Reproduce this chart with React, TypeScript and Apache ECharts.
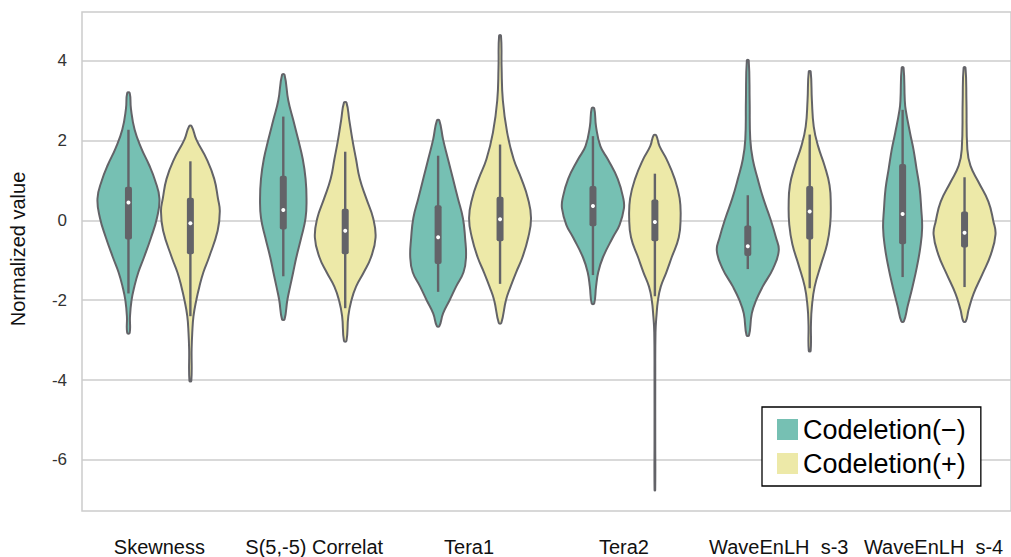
import React, { useEffect, useRef } from "react";
import * as echarts from "echarts";

const categories = ["Skewness", "S(5,-5) Correlat", "Tera1", "Tera2", "WaveEnLH_s-3", "WaveEnLH_s-4"];
const hueNames = ["Codeletion(−)", "Codeletion(+)"];
const yTicks = [-6, -4, -2, 0, 2, 4];

// violin outlines: [value, relative half-width]
const skewNeg = [[3.19,0.04],[2.8,0.08],[2.27,0.2],[1.8,0.42],[1.4,0.66],[1.0,0.86],[0.55,1.0],[0.06,0.92],[-0.43,0.73],[-0.93,0.5],[-1.3,0.32],[-1.66,0.19],[-2.0,0.1],[-2.4,0.05],[-2.82,0.04]];
const skewPos = [[2.36,0.04],[2.03,0.19],[1.53,0.53],[1.04,0.77],[0.55,0.89],[0.23,0.95],[-0.26,0.88],[-0.93,0.6],[-1.3,0.42],[-1.66,0.29],[-2.0,0.19],[-2.4,0.1],[-2.82,0.06],[-3.23,0.04],[-4.02,0.03]];
const corrNeg = [[3.65,0.04],[3.01,0.16],[2.52,0.32],[2.03,0.48],[1.53,0.63],[1.04,0.72],[0.55,0.75],[0.06,0.72],[-0.43,0.58],[-0.93,0.42],[-1.3,0.32],[-1.66,0.22],[-2.0,0.13],[-2.48,0.04]];
const corrPos = [[2.95,0.04],[2.52,0.13],[2.03,0.23],[1.53,0.35],[1.04,0.47],[0.55,0.68],[0.06,0.9],[-0.43,0.98],[-0.93,0.83],[-1.3,0.6],[-1.66,0.35],[-2.0,0.2],[-2.4,0.1],[-3.02,0.04]];
const tera1Neg = [[2.5,0.04],[2.03,0.16],[1.53,0.32],[1.04,0.48],[0.55,0.64],[0.06,0.8],[-0.43,0.87],[-0.93,0.9],[-1.3,0.82],[-1.66,0.58],[-2.0,0.37],[-2.33,0.16],[-2.65,0.04]];
const tera1Pos = [[4.63,0.03],[3.83,0.05],[3.01,0.09],[2.2,0.23],[1.53,0.44],[1.04,0.69],[0.55,0.9],[0.06,1.0],[-0.43,0.91],[-0.93,0.72],[-1.3,0.52],[-1.66,0.34],[-2.0,0.19],[-2.57,0.04]];
const tera2Neg = [[2.81,0.04],[2.35,0.1],[1.86,0.24],[1.53,0.48],[1.04,0.8],[0.55,0.98],[0.3,1.0],[-0.11,0.86],[-0.43,0.64],[-0.93,0.32],[-1.3,0.17],[-1.66,0.1],[-2.08,0.04]];
const tera2Pos = [[2.13,0.04],[1.86,0.15],[1.53,0.38],[1.04,0.64],[0.55,0.8],[0.06,0.83],[-0.43,0.77],[-0.93,0.54],[-1.3,0.37],[-1.66,0.19],[-2.0,0.1],[-2.4,0.05],[-2.8,0.02],[-4.0,0.012],[-5.5,0.012],[-6.76,0.01]];
const wave3Neg = [[4.01,0.03],[3.01,0.06],[2.03,0.08],[1.53,0.16],[1.04,0.32],[0.55,0.5],[0.06,0.72],[-0.43,0.91],[-0.76,1.0],[-1.2,0.82],[-1.66,0.48],[-2.0,0.27],[-2.33,0.13],[-2.88,0.04]];
const wave3Pos = [[3.73,0.03],[3.01,0.07],[2.35,0.13],[1.86,0.27],[1.37,0.48],[0.88,0.64],[0.38,0.68],[-0.11,0.66],[-0.6,0.56],[-1.09,0.37],[-1.66,0.16],[-2.16,0.07],[-2.6,0.04],[-3.27,0.03]];
const wave4Neg = [[3.83,0.03],[3.01,0.07],[2.77,0.1],[2.19,0.24],[1.78,0.35],[1.29,0.45],[0.8,0.55],[0.3,0.6],[-0.19,0.63],[-0.68,0.57],[-1.17,0.46],[-1.66,0.32],[-2.16,0.16],[-2.53,0.04]];
const wave4Pos = [[3.83,0.03],[3.01,0.06],[1.78,0.09],[1.37,0.19],[0.96,0.45],[0.47,0.77],[-0.02,0.93],[-0.35,1.0],[-0.85,0.85],[-1.34,0.58],[-1.84,0.29],[-2.24,0.13],[-2.53,0.04]];

// inner box: [whiskerLow, q1, median, q3, whiskerHigh]
const boxNeg = [[-1.83,-0.48,0.45,0.84,2.27],[-1.4,-0.23,0.26,1.12,2.6],[-1.79,-1.09,-0.42,0.38,1.62],[-1.37,-0.15,0.36,0.86,2.11],[-1.22,-0.89,-0.65,-0.13,0.63],[-1.42,-0.6,0.16,1.41,2.77]];
const boxPos = [[-2.4,-0.85,-0.07,0.57,1.48],[-2.2,-0.85,-0.26,0.29,1.72],[-1.59,-0.52,0.03,0.59,1.9],[-1.9,-0.52,-0.04,0.52,1.17],[-1.7,-0.48,0.22,0.86,2.15],[-1.67,-0.68,-0.31,0.22,1.08]];

const profilesNeg = [skewNeg, corrNeg, tera1Neg, tera2Neg, wave3Neg, wave4Neg];
const profilesPos = [skewPos, corrPos, tera1Pos, tera2Pos, wave3Pos, wave4Pos];

const TEAL = "#76c0b3";
const YELLOW = "#ede9a8";
const EDGE = "#636368";

function makeRender(profiles: number[][][], boxes: number[][], side: number) {
  return (params: any, api: any) => {
    const i = params.dataIndex;
    const band = api.size([1, 0])[0];
    const cx = api.coord([i, 0])[0] + side * band * 0.2;
    const half = band * 0.2;
    const prof = profiles[i];
    const left = prof.map(([v, w]) => [cx - w * half, api.coord([i, v])[1]]);
    const right = prof.slice().reverse().map(([v, w]) => [cx + w * half, api.coord([i, v])[1]]);
    const [wl, q1, med, q3, wh] = boxes[i];
    const yq1 = api.coord([i, q1])[1];
    const yq3 = api.coord([i, q3])[1];
    const fill = side < 0 ? TEAL : YELLOW;
    return {
      type: "group",
      children: [
        {
          type: "polygon",
          shape: { points: left.concat(right), smooth: 0.45 },
          style: { fill, stroke: EDGE, lineWidth: 2 },
        },
        {
          type: "line",
          shape: { x1: cx, y1: api.coord([i, wl])[1], x2: cx, y2: api.coord([i, wh])[1] },
          style: { stroke: EDGE, lineWidth: 2.4 },
        },
        {
          type: "rect",
          shape: { x: cx - 3.5, y: yq3, width: 7, height: yq1 - yq3, r: 2 },
          style: { fill: EDGE },
        },
        {
          type: "circle",
          shape: { cx, cy: api.coord([i, med])[1], r: 2 },
          style: { fill: "#ffffff" },
        },
      ],
    };
  };
}

export default function App() {
  const ref = useRef<HTMLDivElement>(null);
  useEffect(() => {
    if (!ref.current) return;
    const chart = echarts.init(ref.current, undefined, { renderer: "svg" });
    const font = "Liberation Sans, Arial, sans-serif";
    chart.setOption({
      animation: false,
      backgroundColor: "#ffffff",
      grid: {
        left: 82,
        top: 12,
        width: 938,
        height: 506,
        show: true,
        borderColor: "#cccccc",
        borderWidth: 1.5,
        backgroundColor: "transparent",
      },
      legend: {
        orient: "vertical",
        left: 762,
        top: 407,
        padding: [9, 15, 9, 15],
        itemGap: 7,
        itemWidth: 21,
        itemHeight: 21,
        icon: "rect",
        backgroundColor: "#ffffff",
        borderColor: "#000000",
        borderWidth: 1.3,
        borderRadius: 0,
        textStyle: { fontSize: 27, color: "#000", fontFamily: font, lineHeight: 21, padding: [0, 0, 0, 0] },
        data: [
          { name: hueNames[0], itemStyle: { color: TEAL, borderWidth: 0 } },
          { name: hueNames[1], itemStyle: { color: YELLOW, borderWidth: 0 } },
        ],
      },
      xAxis: {
        type: "category",
        data: categories,
        boundaryGap: true,
        axisLine: { show: false },
        axisTick: { show: false },
        splitLine: { show: false },
        axisLabel: { interval: 0, margin: 26, fontSize: 20, color: "#111", fontFamily: font },
      },
      yAxis: {
        type: "value",
        min: -7.28,
        max: 5.22,
        axisLine: { show: false },
        axisTick: { show: false, customValues: yTicks },
        axisLabel: { customValues: yTicks, fontSize: 17, color: "#333", margin: 15, fontFamily: font },
        splitLine: { show: true, lineStyle: { color: "#cccccc", width: 1.5 } },
      },
      graphic: [
        {
          type: "text",
          x: 18,
          y: 249,
          rotation: Math.PI / 2,
          style: {
            text: "Normalized value",
            fontSize: 20,
            fontFamily: font,
            fill: "#111",
            align: "center",
            verticalAlign: "middle",
          },
        },
      ],
      series: [
        {
          name: hueNames[0],
          type: "custom",
          itemStyle: { color: TEAL },
          renderItem: makeRender(profilesNeg, boxNeg, -1),
          encode: { x: 0, y: [1, 2] },
          data: categories.map((_, i) => [i, boxNeg[i][0], boxNeg[i][4]]),
          z: 3,
        },
        {
          name: hueNames[1],
          type: "custom",
          itemStyle: { color: YELLOW },
          renderItem: makeRender(profilesPos, boxPos, 1),
          encode: { x: 0, y: [1, 2] },
          data: categories.map((_, i) => [i, boxPos[i][0], boxPos[i][4]]),
          z: 3,
        },
      ],
    });
    return () => chart.dispose();
  }, []);
  return <div ref={ref} style={{ position: "fixed", left: 0, top: 0, width: 1011, height: 557 }} />;
}
